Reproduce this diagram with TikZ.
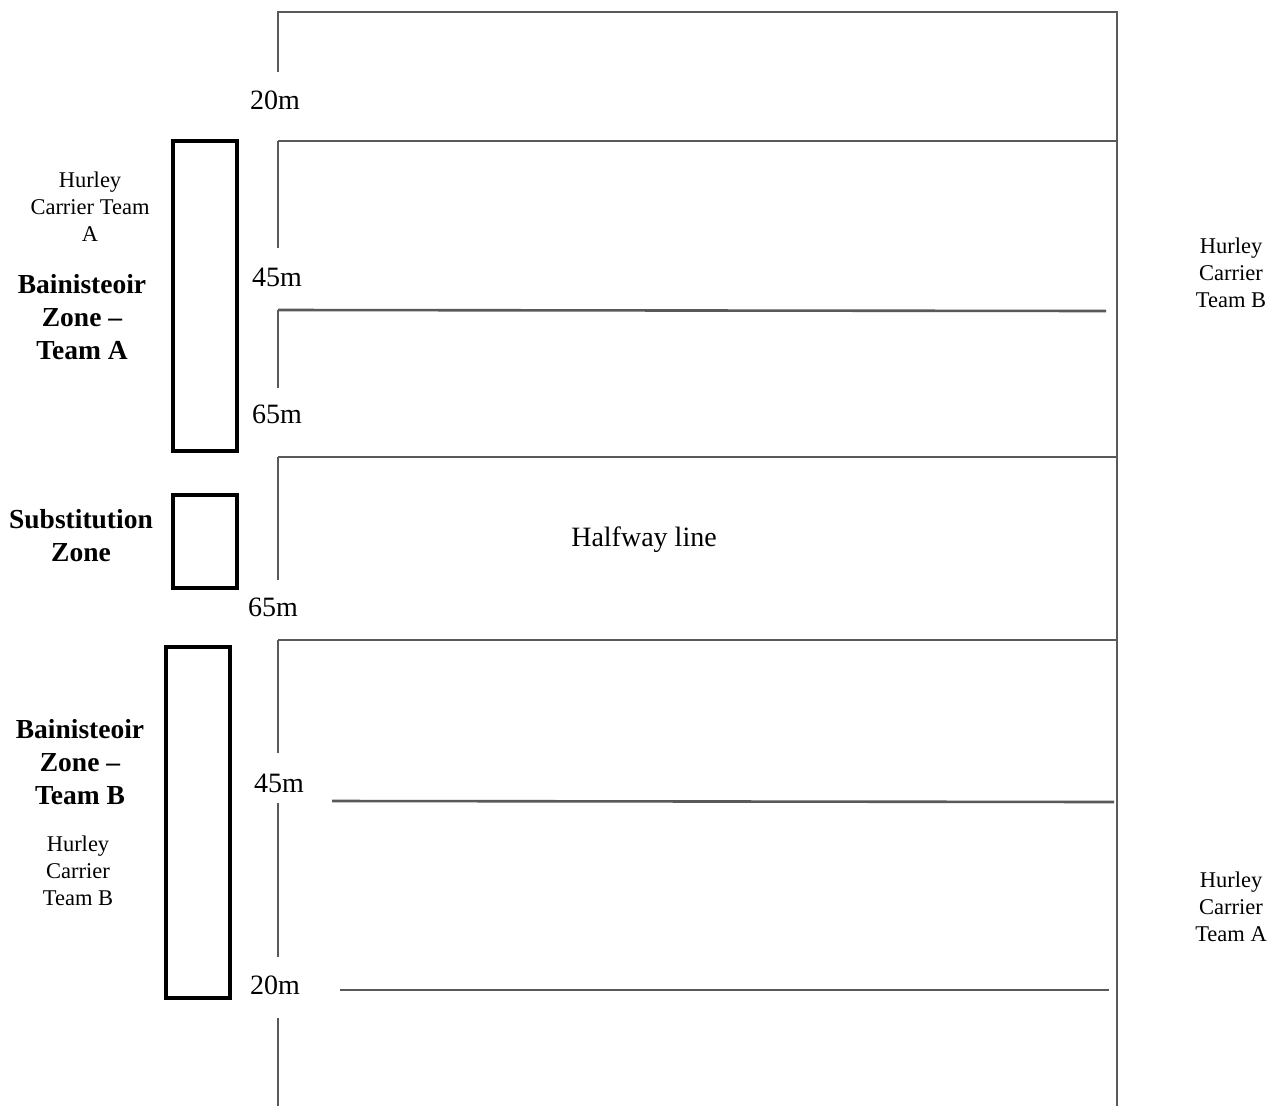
\documentclass[tikz,border=0pt]{standalone}
\usepackage{fontspec}
\setmainfont{Liberation Serif}
\usepackage{tikz}
\definecolor{pitchgrey}{HTML}{595959}

\tikzset{
  pitchline/.style={pitchgrey, line width=2.6pt},
  zonebox/.style={black, line width=4pt},
  distlabel/.style={font=\fontsize{28}{32}\selectfont},
  carrierlabel/.style={align=center, font=\fontsize{22.5}{27}\selectfont},
  zonelabel/.style={align=center, font=\fontsize{27.5}{33}\selectfont\bfseries}
}

\begin{document}
\begin{tikzpicture}[x=1pt, y=-1pt]
    \useasboundingbox (0,0) rectangle (1284,1106);

    % pitch outline
    \draw[pitchline] (278,72) -- (278,12) -- (1117,12) -- (1117,1106);

    % left touchline, broken at the distance labels
    \draw[pitchline] (278,141) -- (278,248);
    \draw[pitchline] (278,310) -- (278,388);
    \draw[pitchline] (278,457) -- (278,580);
    \draw[pitchline] (278,640) -- (278,753);
    \draw[pitchline] (278,803) -- (278,957);
    \draw[pitchline] (278,1018) -- (278,1106);

    % cross lines
    \draw[pitchline] (278,141) -- (1117,141);
    \draw[pitchline] (278,310) -- (1106,311);
    \draw[pitchline] (278,457) -- (1117,457);
    \draw[pitchline] (278,640) -- (1117,640);
    \draw[pitchline] (332,801) -- (1114,802);
    \draw[pitchline] (340,990) -- (1109,990);

    \node[distlabel] (d20a) at (275,100) {20m};
    \node[distlabel] (d45a) at (277,277) {45m};
    \node[distlabel] (d65a) at (277,414) {65m};
    \node[distlabel] (d65b) at (273,607) {65m};
    \node[distlabel] (d45b) at (279,783) {45m};
    \node[distlabel] (d20b) at (275,985) {20m};

    \node[distlabel] (half) at (644,540) {Halfway line};

    % zones
    \draw[zonebox] (173,141) rectangle (237,451);
    \draw[zonebox] (173,495) rectangle (237,588);
    \draw[zonebox] (166,647) rectangle (230,998);

    \node[carrierlabel] (carrA) at (90,207) {Hurley\\Carrier Team\\A};
    \node[zonelabel] (zoneA) at (82,317) {Bainisteoir\\Zone --\\Team A};
    \node[zonelabel] (subs) at (81,536) {Substitution\\Zone};
    \node[zonelabel] (zoneB) at (80,762) {Bainisteoir\\Zone --\\Team B};
    \node[carrierlabel] (carrBl) at (78,871) {Hurley\\Carrier\\Team B};

    \node[carrierlabel] (carrBr) at (1231,273) {Hurley\\Carrier\\Team B};
    \node[carrierlabel] (carrAr) at (1231,907) {Hurley\\Carrier\\Team A};
  \end{tikzpicture}
\end{document}
